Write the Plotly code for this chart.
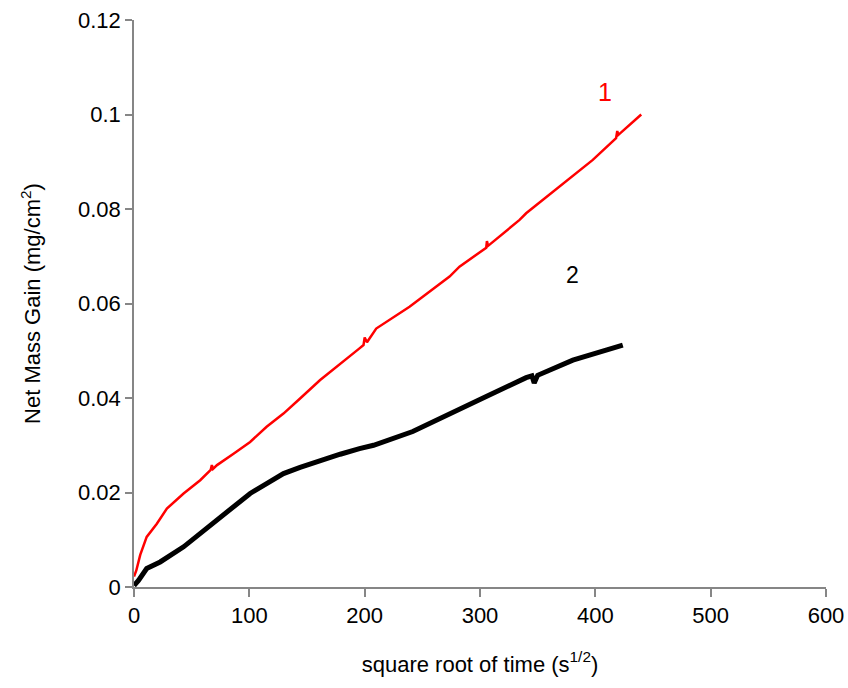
import plotly.graph_objects as go

# Curve 1 (red)
x1 = [0, 2, 5.4, 11, 19.8, 28.5, 43, 57.4, 66.5, 67.5, 68.5, 72, 86.3, 100.7, 115, 129.6, 144,
      161.4, 195.5, 199, 200, 202, 210, 238.9, 273.6, 282.2, 305.4, 306, 307, 334.3, 340, 369,
      397.8, 418, 419, 420, 430, 439.8]
y1 = [0.0022, 0.0035, 0.0068, 0.0106, 0.0134, 0.0166, 0.0198, 0.0226, 0.0248, 0.0258, 0.0250, 0.0258,
      0.0282, 0.0307, 0.0339, 0.0367, 0.0399, 0.0438, 0.0505, 0.0512, 0.0528, 0.0518, 0.0547, 0.0593,
      0.0657, 0.0678, 0.0718, 0.0732, 0.0722, 0.0777, 0.0791, 0.0848, 0.0904, 0.0950, 0.0965, 0.0957,
      0.0978, 0.1000]

# Curve 2 (black)
x2 = [0, 3.9, 11, 22.7, 43, 57.4, 71.8, 86.3, 100.7, 115, 129.6, 144, 161.4, 178.8, 195.5,
      207.7, 241.7, 267.7, 305.4, 340, 345, 347, 350, 380.5, 423.8]
y2 = [0.0003, 0.0014, 0.0039, 0.0053, 0.0085, 0.0113, 0.0141, 0.0169, 0.0198, 0.0219, 0.0240,
      0.0253, 0.0268, 0.0281, 0.0293, 0.0300, 0.0329, 0.0360, 0.0403, 0.0443, 0.0447, 0.0432, 0.0448,
      0.0480, 0.0512]

x_ticks = [0, 100, 200, 300, 400, 500, 600]
y_ticks = [0, 0.02, 0.04, 0.06, 0.08, 0.1, 0.12]
y_tick_text = ["0", "0.02", "0.04", "0.06", "0.08", "0.1", "0.12"]

font_family = "Liberation Sans, Arial, sans-serif"
fs = 22

fig = go.Figure()
fig.add_trace(go.Scatter(x=x1, y=y1, mode="lines", line=dict(color="#ff0000", width=2.5),
                         showlegend=False))
fig.add_trace(go.Scatter(x=x2, y=y2, mode="lines", line=dict(color="#000000", width=5),
                         showlegend=False))

fig.add_annotation(x=408, y=0.1048, text="1", showarrow=False,
                   font=dict(color="#ff0000", size=fs + 3, family=font_family))
fig.add_annotation(x=380, y=0.066, text="2", showarrow=False,
                   font=dict(color="#000000", size=fs + 1, family=font_family))

axis_common = dict(showgrid=False, zeroline=False, showline=True, linecolor="#868686",
                   linewidth=1.5, ticks="outside", tickcolor="#868686", tickwidth=1.5,
                   automargin=False, ticklabeloverflow="allow",
                   tickfont=dict(size=fs, color="black", family=font_family))

fig.update_xaxes(range=[0, 600], tickvals=x_ticks, ticklen=8,
                 title=dict(text="square root of time (s<sup>1/2</sup>)",
                            font=dict(size=fs, color="black", family=font_family), standoff=29),
                 **axis_common)
fig.update_yaxes(range=[0, 0.12], tickvals=y_ticks, ticktext=y_tick_text, ticklen=7,
                 title=dict(text="Net Mass Gain (mg/cm<sup>2</sup>)",
                            font=dict(size=fs, color="black", family=font_family), standoff=31),
                 **axis_common)

fig.update_layout(width=848, height=688, plot_bgcolor="white", paper_bgcolor="white",
                  margin=dict(l=134, r=22, t=20, b=101),
                  font=dict(family=font_family, size=fs))

fig.write_html("out.html", config={"displayModeBar": False},
               post_script="document.body.style.margin='0px';document.body.style.overflow='hidden';")
